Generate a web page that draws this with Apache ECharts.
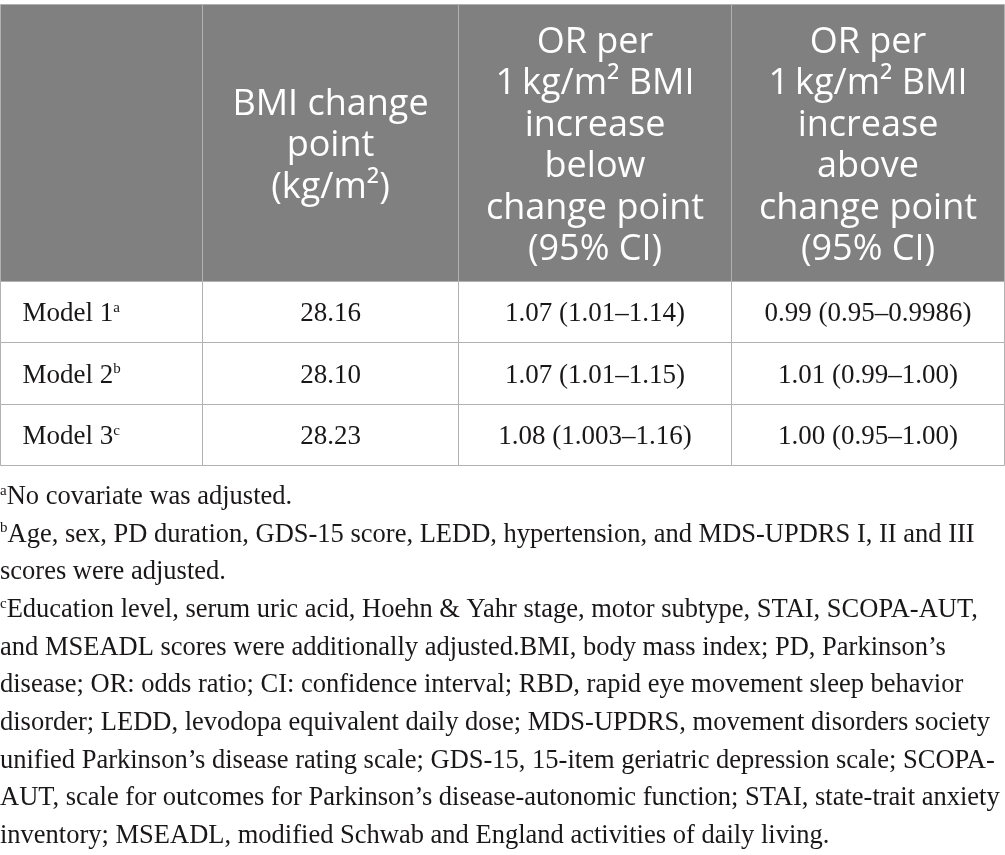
<!DOCTYPE html>
<html><head><meta charset="utf-8">
<script src="https://cdn.jsdelivr.net/npm/echarts@6/dist/echarts.min.js"></script>
<style>html,body{margin:0;padding:0;background:#fff}#c{width:1005px;height:855px}</style>
</head><body><div id="c"></div>
<script>
// ---- table content ----
const headers = [
  [],
  ['BMI change', 'point', '(kg/m²)'],
  ['OR per', '1\u2009kg/m² BMI', 'increase', 'below', 'change point', '(95% CI)'],
  ['OR per', '1\u2009kg/m² BMI', 'increase', 'above', 'change point', '(95% CI)']
];
const models = ['Model 1', 'Model 2', 'Model 3'];
const modelNotes = ['a', 'b', 'c'];
const changePoint = ['28.16', '28.10', '28.23'];
const orBelow = ['1.07 (1.01–1.14)', '1.07 (1.01–1.15)', '1.08 (1.003–1.16)'];
const orAbove = ['0.99 (0.95–0.9986)', '1.01 (0.99–1.00)', '1.00 (0.95–1.00)'];
const footnoteMarks = ['a', 'b', '', 'c', '', '', '', '', '', '', ''];
const footnoteLines = [
  'No covariate was adjusted.',
  'Age, sex, PD duration, GDS-15 score, LEDD, hypertension, and MDS-UPDRS I, II and III',
  'scores were adjusted.',
  'Education level, serum uric acid, Hoehn & Yahr stage, motor subtype, STAI, SCOPA-AUT,',
  'and MSEADL scores were additionally adjusted.BMI, body mass index; PD, Parkinson’s',
  'disease; OR: odds ratio; CI: confidence interval; RBD, rapid eye movement sleep behavior',
  'disorder; LEDD, levodopa equivalent daily dose; MDS-UPDRS, movement disorders society',
  'unified Parkinson’s disease rating scale; GDS-15, 15-item geriatric depression scale; SCOPA-',
  'AUT, scale for outcomes for Parkinson’s disease-autonomic function; STAI, state-trait anxiety',
  'inventory; MSEADL, modified Schwab and England activities of daily living.'
];

// ---- layout (not data) ----
const colEdges = [0, 202, 458, 731, 1004];
const rowEdges = [0, 277, 338, 400, 461];
const SANS = '"Open Sans", "Noto Sans", sans-serif';
const SERIF = '"Liberation Serif", "DejaVu Serif", serif';

const cells = [];
for (let c = 0; c < 4; c++) cells.push({ value: [c, 0], kind: 'head' });
for (let r = 0; r < models.length; r++) for (let c = 0; c < 4; c++) cells.push({ value: [c, r + 1], kind: 'body' });

function cellText(c, r) {
  if (r === 0) return headers[c].join('\n');
  const i = r - 1;
  if (c === 0) return models[i] + '{sup|' + modelNotes[i] + '}';
  if (c === 1) return changePoint[i];
  if (c === 2) return orBelow[i];
  return orAbove[i];
}

const chart = echarts.init(document.getElementById('c'), null, { renderer: 'canvas' });
const fnText = footnoteLines.map((l, i) => (footnoteMarks[i] ? '{sup|' + footnoteMarks[i] + '}' : '') + '{t|' + l + '}').join('\n');

chart.setOption({
  animation: false,
  grid: { left: 0, top: 4, width: 1004, height: 461, containLabel: false },
  xAxis: { type: 'value', min: 0, max: 1004, show: false },
  yAxis: { type: 'value', min: 0, max: 461, inverse: true, show: false },
  series: [{
    type: 'custom',
    coordinateSystem: 'cartesian2d',
    data: cells.map(d => d.value),
    renderItem: function (params, api) {
      const c = api.value(0), r = api.value(1);
      const p0 = api.coord([colEdges[c], rowEdges[r]]);
      const p1 = api.coord([colEdges[c + 1], rowEdges[r + 1]]);
      const head = r === 0;
      const txt = cellText(c, r);
      const x0 = Math.round(p0[0]) + 0.5, y0 = Math.round(p0[1]) + 0.5;
      const w = Math.round(p1[0]) - Math.round(p0[0]), h = Math.round(p1[1]) - Math.round(p0[1]);
      return {
        type: 'group',
        children: [
          { type: 'rect', shape: { x: x0, y: y0, width: w, height: h },
            style: { fill: head ? '#808080' : '#ffffff', stroke: '#b1b1b1', lineWidth: 1 } },
          { type: 'text',
            style: head ? {
              text: txt, x: x0 + w / 2, y: y0 + h / 2 + 3, align: 'center', verticalAlign: 'middle',
              fill: '#ffffff', fontFamily: SANS, fontSize: 36, lineHeight: 41.5
            } : {
              text: txt, x: c === 0 ? x0 + 22 : x0 + w / 2, y: y0 + h / 2 + 2,
              align: c === 0 ? 'left' : 'center', verticalAlign: 'middle',
              fill: '#1a1718', fontFamily: SERIF, fontSize: 27,
              rich: { sup: { fontSize: 15, fontFamily: SERIF, fill: '#1a1718', verticalAlign: 'top', padding: [0, 0, 10, 0] } }
            }
          }
        ]
      };
    }
  }],
  graphic: [{
    type: 'text', left: 0, top: 478,
    style: {
      text: fnText, fill: '#1a1718', fontFamily: SERIF, fontSize: 26.5, lineHeight: 37.7,
      rich: {
        t: { fontSize: 26.5, fontFamily: SERIF, fill: '#1a1718', lineHeight: 37.7 },
        sup: { fontSize: 15, fontFamily: SERIF, fill: '#1a1718', padding: [0, 0, 12, 0] }
      }
    }
  }]
});
</script></body></html>
